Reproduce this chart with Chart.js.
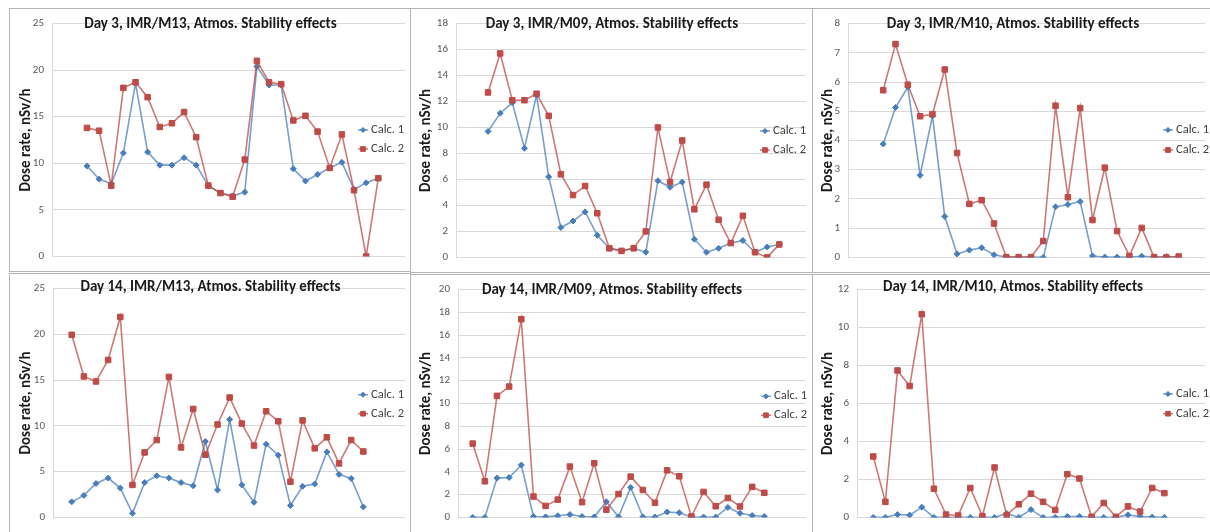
<!DOCTYPE html>
<html>
<head>
<meta charset="utf-8">
<title>Dose rate – atmospheric stability effects</title>
<script src="https://cdn.jsdelivr.net/npm/chart.js@4.4.1/dist/chart.umd.min.js"></script>
<style>
  html, body { margin: 0; padding: 0; background: #ffffff; }
  body { width: 1210px; height: 532px; position: relative; overflow: hidden; }
  .frame { position: absolute; border: 1px solid #b4b4b4; box-sizing: border-box; }
  canvas { position: absolute; }
</style>
</head>
<body>
<script>
// Time steps shared by every panel
const steps = [1, 2, 3, 4, 5, 6, 7, 8, 9, 10, 11, 12, 13, 14, 15, 16, 17, 18, 19, 20, 21, 22, 23, 24, 25];

// Day 3
const day3M13Calc1 = [9.7, 8.3, 7.8, 11.1, 18.6, 11.2, 9.8, 9.8, 10.6, 9.8, 7.6, 6.8, 6.5, 6.9, 20.4, 18.4, 18.4, 9.4, 8.1, 8.8, 9.5, 10.1, 7.2, 7.9, 8.4];
const day3M13Calc2 = [13.8, 13.5, 7.6, 18.1, 18.7, 17.1, 13.9, 14.3, 15.5, 12.8, 7.6, 6.8, 6.4, 10.4, 21.0, 18.7, 18.5, 14.6, 15.1, 13.4, 9.5, 13.1, 7.1, 0.0, 8.4];

const day3M09Calc1 = [9.7, 11.1, 11.9, 8.4, 12.5, 6.2, 2.3, 2.8, 3.5, 1.7, 0.7, 0.5, 0.7, 0.4, 5.9, 5.4, 5.8, 1.4, 0.4, 0.7, 1.1, 1.3, 0.4, 0.8, 1.0];
const day3M09Calc2 = [12.7, 15.7, 12.1, 12.1, 12.6, 10.9, 6.4, 4.8, 5.5, 3.4, 0.7, 0.5, 0.7, 2.0, 10.0, 5.8, 9.0, 3.7, 5.6, 2.9, 1.1, 3.2, 0.4, 0.0, 1.0];

const day3M10Calc1 = [3.88, 5.13, 5.83, 2.81, 4.84, 1.40, 0.12, 0.25, 0.33, 0.09, 0.01, 0.01, 0.01, 0.0, 1.73, 1.81, 1.91, 0.05, 0.01, 0.01, 0.01, 0.04, 0.01, 0.03, 0.01];
const day3M10Calc2 = [5.72, 7.30, 5.91, 4.83, 4.90, 6.43, 3.57, 1.83, 1.96, 1.16, 0.01, 0.01, 0.01, 0.56, 5.19, 2.06, 5.11, 1.28, 3.07, 0.90, 0.05, 1.01, 0.01, 0.0, 0.03];

// Day 14
const day14M13Calc1 = [1.7, 2.4, 3.7, 4.3, 3.2, 0.45, 3.8, 4.55, 4.3, 3.8, 3.45, 8.3, 3.0, 10.7, 3.55, 1.65, 8.0, 6.8, 1.3, 3.4, 3.65, 7.15, 4.7, 4.25, 1.15];
const day14M13Calc2 = [19.95, 15.4, 14.85, 17.2, 21.9, 3.55, 7.1, 8.45, 15.35, 7.65, 11.85, 6.85, 10.15, 13.1, 10.25, 7.85, 11.6, 10.5, 3.9, 10.6, 7.55, 8.75, 5.9, 8.45, 7.2];

const day14M09Calc1 = [0, 0, 3.45, 3.5, 4.6, 0.08, 0.05, 0.14, 0.25, 0.08, 0.05, 1.37, 0.05, 2.63, 0.05, 0.03, 0.47, 0.41, 0.03, 0.03, 0.03, 0.88, 0.36, 0.16, 0.08];
const day14M09Calc2 = [6.48, 3.17, 10.67, 11.49, 17.4, 1.83, 1.01, 1.56, 4.46, 1.34, 4.76, 0.68, 2.05, 3.58, 2.41, 1.29, 4.13, 3.61, 0.08, 2.24, 0.98, 1.70, 0.96, 2.68, 2.16];

const day14M10Calc1 = [0, 0, 0.15, 0.12, 0.54, 0, 0, 0, 0, 0, 0, 0.21, 0, 0.41, 0, 0, 0.05, 0.05, 0, 0, 0, 0.13, 0.05, 0.02, 0];
const day14M10Calc2 = [3.21, 0.82, 7.74, 6.92, 10.70, 1.51, 0.15, 0.10, 1.55, 0.07, 2.63, 0.12, 0.69, 1.25, 0.82, 0.39, 2.28, 2.05, 0.03, 0.76, 0.03, 0.58, 0.31, 1.55, 1.28];

// Y-axis ranges (max, step) per panel
const yRangeDay3M13 = [25, 5];
const yRangeDay3M09 = [18, 2];
const yRangeDay3M10 = [8, 1];
const yRangeDay14M13 = [25, 5];
const yRangeDay14M09 = [20, 2];
const yRangeDay14M10 = [12, 2];

const seriesNames = ['Calc. 1', 'Calc. 2'];
const yAxisLabel = 'Dose rate, nSv/h';

// ---- styling ----
const FONT = "Carlito, Lato, 'Open Sans', 'Liberation Sans', sans-serif";
const BLUE = '#4a7ebb';
const BLUE_LINE = 'rgba(74,126,187,0.75)';
const RED = '#be4b48';
const RED_LINE = 'rgba(190,75,72,0.75)';
const TITLE_SIZE = 15;
const AXIS_TITLE_SIZE = 15;
const TICK_SIZE = 11;
const LEGEND_SIZE = 12.5;

Chart.defaults.font.family = FONT;
Chart.defaults.animation = false;

// Frame box (page px), plot rectangle, x range, title / legend anchors
const panels = [
  { title: 'Day 3, IMR/M13, Atmos. Stability effects', c1: day3M13Calc1, c2: day3M13Calc2, yr: yRangeDay3M13,
    frame: [9, 8, 410, 271], plot: [52, 17.3, 405, 260.7], xr: [-1.88, 27.2], ty: 24, legend: [358, 130, 149], yTitleX: 26.5 },
  { title: 'Day 3, IMR/M09, Atmos. Stability effects', c1: day3M09Calc1, c2: day3M09Calc2, yr: yRangeDay3M09,
    frame: [410, 8, 812, 272], plot: [456, 17.3, 806, 261], xr: [-1.64, 27.2], ty: 24, legend: [760, 131, 150], yTitleX: 426.5 },
  { title: 'Day 3, IMR/M10, Atmos. Stability effects', c1: day3M10Calc1, c2: day3M10Calc2, yr: yRangeDay3M10,
    frame: [812, 8, 1214, 272], plot: [848, 17.3, 1205.7, 260.7], xr: [-1.86, 27.14], ty: 24, legend: [1163, 130, 150], yTitleX: 828 },
  { title: 'Day 14, IMR/M13, Atmos. Stability effects', c1: day14M13Calc1, c2: day14M13Calc2, yr: yRangeDay14M13,
    frame: [9, 273, 410, 540], plot: [53, 281.3, 405, 524.7], xr: [-0.54, 28.43], ty: 287.6, legend: [358, 394.7, 413.7], yTitleX: 26.5 },
  { title: 'Day 14, IMR/M09, Atmos. Stability effects', c1: day14M09Calc1, c2: day14M09Calc2, yr: yRangeDay14M09,
    frame: [410, 274, 812, 540], plot: [458, 283.3, 806, 527], xr: [-0.21, 28.43], ty: 290, legend: [761, 396.3, 415.3], yTitleX: 426.5 },
  { title: 'Day 14, IMR/M10, Atmos. Stability effects', c1: day14M10Calc1, c2: day14M10Calc2, yr: yRangeDay14M10,
    frame: [812, 274, 1214, 540], plot: [857, 281.3, 1205.7, 524.7], xr: [-0.34, 28.35], ty: 287.6, legend: [1163, 394, 413.7], yTitleX: 828 }
];

// Draws the panel heading and the overlaid legend on top of the plot
const panelTextPlugin = {
  id: 'panelText',
  afterDraw(chart, args, opts) {
    const ctx = chart.ctx;
    ctx.save();
    ctx.fillStyle = '#1a1a1a';
    ctx.font = "bold " + TITLE_SIZE + "px " + FONT;
    ctx.textAlign = 'center';
    ctx.textBaseline = 'middle';
    ctx.fillText(opts.title, opts.titleX, opts.titleY);

    ctx.font = LEGEND_SIZE + "px " + FONT;
    ctx.textAlign = 'left';
    chart.data.datasets.forEach((ds, i) => {
      const y = opts.legendY[i];
      const x0 = opts.legendX;
      ctx.strokeStyle = ds.borderColor;
      ctx.lineWidth = 1.5;
      ctx.beginPath();
      ctx.moveTo(x0, y);
      ctx.lineTo(x0 + 10, y);
      ctx.stroke();
      ctx.fillStyle = ds.pointBackgroundColor;
      ctx.strokeStyle = ds.pointBorderColor;
      ctx.lineWidth = 1;
      Chart.helpers.drawPoint(ctx, { pointStyle: ds.pointStyle, radius: ds.pointRadius * 0.85, rotation: 0, borderWidth: 1 }, x0 + 5, y);
      ctx.fillStyle = '#404040';
      ctx.fillText(ds.label, x0 + 13, y);
    });
    ctx.restore();
  }
};

panels.forEach((p) => {
  const [fl, ft, fr, fb] = p.frame;
  const frame = document.createElement('div');
  frame.className = 'frame';
  frame.style.left = fl + 'px';
  frame.style.top = ft + 'px';
  frame.style.width = (fr - fl + 1) + 'px';
  frame.style.height = (fb - ft + 1) + 'px';
  document.body.appendChild(frame);

  const cx = fl + 1, cy = ft + 1;
  const cw = Math.min(fr, 1210) - cx;
  const ch = Math.min(fb, 532) - cy;
  const canvas = document.createElement('canvas');
  canvas.width = cw;
  canvas.height = ch;
  canvas.style.left = cx + 'px';
  canvas.style.top = cy + 'px';
  canvas.style.width = cw + 'px';
  canvas.style.height = ch + 'px';
  document.body.appendChild(canvas);

  const [pl, pt, pr, pb] = p.plot;
  const yAxisWidth = pl - cx;
  const titleLine = AXIS_TITLE_SIZE * 1.2;
  const yTitlePad = (p.yTitleX - cx) - titleLine / 2;

  new Chart(canvas, {
    type: 'line',
    data: {
      datasets: [
        {
          label: seriesNames[0],
          data: steps.map((s, i) => ({ x: s, y: p.c1[i] })),
          borderColor: BLUE_LINE,
          backgroundColor: BLUE,
          borderWidth: 1.6,
          pointStyle: 'rectRot',
          pointRadius: 3,
          pointBackgroundColor: BLUE,
          pointBorderColor: BLUE,
          pointBorderWidth: 1,
          tension: 0,
          order: 1
        },
        {
          label: seriesNames[1],
          data: steps.map((s, i) => ({ x: s, y: p.c2[i] })),
          borderColor: RED_LINE,
          backgroundColor: RED,
          borderWidth: 1.6,
          pointStyle: 'rect',
          pointRadius: 3.9,
          pointBackgroundColor: RED,
          pointBorderColor: RED,
          pointBorderWidth: 1,
          tension: 0,
          order: 0
        }
      ]
    },
    options: {
      responsive: false,
      devicePixelRatio: 1,
      animation: false,
      layout: {
        padding: { left: 0, top: pt - cy, right: cx + cw - pr, bottom: cy + ch - pb }
      },
      scales: {
        x: { type: 'linear', min: p.xr[0], max: p.xr[1], display: false },
        y: {
          min: 0,
          max: p.yr[0],
          ticks: { stepSize: p.yr[1], color: '#595959', font: { size: TICK_SIZE }, padding: 8 },
          grid: { color: '#d9d9d9', lineWidth: 1, drawTicks: false },
          border: { display: true, color: '#d9d9d9' },
          title: {
            display: true,
            text: yAxisLabel,
            color: '#1a1a1a',
            font: { size: AXIS_TITLE_SIZE, weight: 'bold' },
            padding: { top: yTitlePad, bottom: 0 }
          },
          afterFit(scale) { scale.width = yAxisWidth; }
        }
      },
      plugins: {
        legend: { display: false },
        tooltip: { enabled: false },
        panelText: {
          title: p.title,
          titleX: (fl + Math.min(fr, 1212)) / 2 - cx + 1,
          titleY: p.ty - cy,
          legendX: p.legend[0] - cx,
          legendY: [p.legend[1] - cy, p.legend[2] - cy]
        }
      }
    },
    plugins: [panelTextPlugin]
  });
});
</script>
</body>
</html>
